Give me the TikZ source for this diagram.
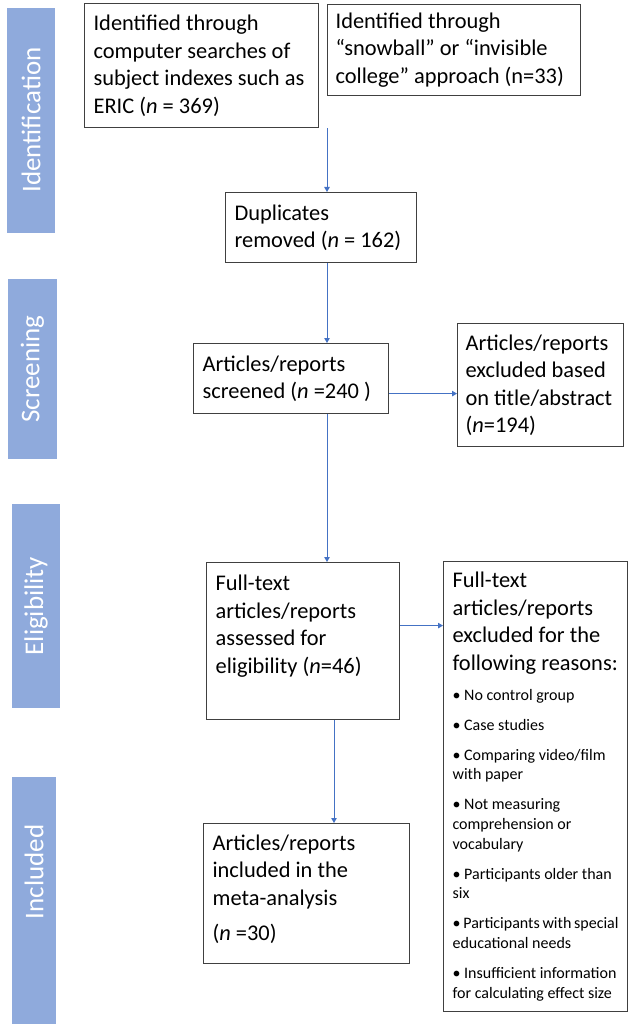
\documentclass[tikz,border=0pt]{standalone}
\usepackage{fontspec}
\setmainfont{Carlito}
\usepackage{xcolor}
\usetikzlibrary{arrows.meta}

\definecolor{phasefill}{HTML}{8FAADC}
\definecolor{flowblue}{HTML}{4472C4}
\definecolor{boxline}{HTML}{404040}
\newcommand{\boxfont}{\fontsize{22.4}{27.5}\selectfont}
\newcommand{\reasonfont}{\fontsize{16}{19.7}\selectfont}
\newcommand{\phasefont}{\fontsize{27}{30}\selectfont}

\begin{document}
\begin{tikzpicture}[x=1pt,y=-1pt,
  box/.style={draw=boxline,line width=1.2pt,anchor=north west,align=flush left,
    inner xsep=9pt,inner ysep=0pt,font=\boxfont,
    execute at begin node={\hyphenpenalty=10000}},
  phasebox/.style={fill=phasefill},
  phaselabel/.style={rotate=90,text=white,font=\phasefont},
  flow/.style={draw=flowblue,line width=0.9pt,-{Triangle[length=5pt,width=5.5pt]}}]
\useasboundingbox (0,0) rectangle (629,1024);

\fill[phasebox] (7,8) rectangle (55,233);
\node[phaselabel] (ident) at (31,120) {Identification};
\fill[phasebox] (8,279) rectangle (57,459);
\node[phaselabel] (screening) at (32.5,369) {Screening};
\fill[phasebox] (12,504) rectangle (60,708);
\node[phaselabel] (eligib) at (36,606) {Eligibility};
\fill[phasebox] (12,777) rectangle (56,1024);
\node[phaselabel] (included) at (34,872) {Included};

\node[box,text width=216pt,minimum height=124pt] (search) at (84,3)
  {Identified~through\\computer~searches~of\\subject~indexes~such~as\\ERIC~(\textit{n}~=~369)};
\node[box,text width=237pt,inner xsep=8pt,minimum height=91pt] (snowball) at (327,4)
  {Identified~through\\“snowball”~or~“invisible\\college”~approach~(n=33)};
\node[box,text width=173pt,minimum height=70pt] (dupl) at (225,192)
  {Duplicates\\removed~(\textit{n}~=~162)};
\node[box,text width=177pt,minimum height=70pt] (screen) at (193,343)
  {Articles/reports\\screened~(\textit{n}~=240~)};
\node[box,text width=150pt,inner xsep=8pt,minimum height=123pt] (exclA) at (457,323)
  {Articles/reports\\excluded~based\\on~title/abstract\\(\textit{n}=194)};
\node[box,text width=175pt,minimum height=157pt] (fulltext) at (206,562)
  {Full-text\\articles/reports\\assessed~for\\eligibility~(\textit{n}=46)\\[6pt]~};
\node[box,text width=166pt,minimum height=450pt] (exclB) at (443,561)
  {Full-text\\articles/reports\\excluded~for~the\\following~reasons:\\[10.3pt]
   \reasonfont\textbullet~No~control~group\\[10.3pt]
   \textbullet~Case~studies\\[10.3pt]
   \textbullet~Comparing~video/film\\with~paper\\[10.3pt]
   \textbullet~Not~measuring\\comprehension~or\\vocabulary\\[10.3pt]
   \textbullet~Participants~older~than\\six\\[10.3pt]
   \textbullet~Participants~with~special\\educational~needs\\[10.3pt]
   \textbullet~Insufficient~information\\for~calculating~effect~size\par};
\node[box,text width=188pt,minimum height=140pt] (incl) at (203,823)
  {Articles/reports\\included~in~the\\meta-analysis\\[8pt](\textit{n}~=30)\rule[-12pt]{0pt}{12pt}};

\coordinate (spine) at (327,0);
\coordinate (spineB) at (334,0);
\draw[flow] (search.south -| spine) -- (dupl.north -| spine);
\draw[flow] (dupl.south -| spine) -- (screen.north -| spine);
\draw[flow] (screen.south -| spine) -- (fulltext.north -| spine);
\draw[flow] (fulltext.south -| spineB) -- (incl.north -| spineB);
\draw[flow] ([yshift=-15pt]screen.east) coordinate (toA) -- (exclA.west |- toA);
\draw[flow] ([yshift=15.5pt]fulltext.east) coordinate (toB) -- (exclB.west |- toB);
\end{tikzpicture}
\end{document}
